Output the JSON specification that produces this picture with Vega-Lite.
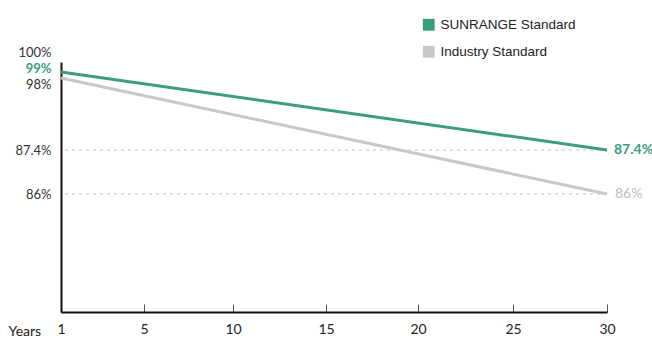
{
  "$schema": "https://vega.github.io/schema/vega-lite/v6.json",
  "width": 546,
  "height": 250,
  "autosize": "none",
  "padding": {"left": 61, "top": 62, "right": 45, "bottom": 26},
  "background": "white",
  "config": {"view": {"stroke": null}, "font": "Lato"},
  "datasets": {
    "series": [
      {"year": 1, "value": 0.99, "series": "SUNRANGE  Standard"},
      {"year": 30, "value": 0.874, "series": "SUNRANGE  Standard"},
      {"year": 1, "value": 0.98, "series": "Industry Standard"},
      {"year": 30, "value": 0.86, "series": "Industry Standard"}
    ],
    "guides": [{"value": 0.874}, {"value": 0.86}]
  },
  "layer": [
    {
      "data": {"name": "guides"},
      "mark": {"type": "rule", "color": "#c4c4c4", "strokeDash": [3, 4], "strokeWidth": 1.2},
      "encoding": {
        "y": {"field": "value", "type": "quantitative", "scale": {"domain": [0.8, 0.86, 0.874, 0.98, 0.99, 1.0], "range": [250, 132, 88, 16, 10, 0], "zero": false, "nice": false}}
      }
    },
    {
      "data": {"name": "series"},
      "mark": {"type": "line", "strokeWidth": 3},
      "encoding": {
        "x": {
          "field": "year", "type": "quantitative",
          "scale": {"domain": [1, 5, 10, 15, 20, 25, 30], "range": [0, 83, 172, 265, 357, 452, 546], "zero": false, "nice": false},
          "axis": {
            "values": [1, 5, 10, 15, 20, 25, 30],
            "title": "Years", "titleX": -53, "titleY": 19, "titleAlign": "left", "titleBaseline": "middle",
            "titleFontWeight": "normal", "titleFontSize": 14, "titleColor": "#222", "titleFont": "Lato",
            "labelAngle": 0, "labelFontSize": 14, "labelColor": "#222", "labelPadding": 18, "labelFlush": false,
            "domainColor": "#111", "domainWidth": 2, "tickColor": "#555", "tickWidth": 1, "tickSize": -8,
            "grid": false, "labelOverlap": false
          }
        },
        "y": {
          "field": "value", "type": "quantitative",
          "scale": {"domain": [0.8, 0.86, 0.874, 0.98, 0.99, 1.0], "range": [250, 132, 88, 16, 10, 0], "zero": false, "nice": false},
          "axis": {
            "title": null, "values": [0.86, 0.874, 0.98, 0.99, 1.0], "format": ".1~%",
            "ticks": false, "grid": false, "labelPadding": 10, "labelFontSize": 13,
            "labelColor": {"condition": {"test": "datum.value == 0.99", "value": "#3a9e7b"}, "value": "#333"},
            "labelFontWeight": {"condition": {"test": "datum.value == 0.99", "value": "bold"}, "value": "normal"},
            "labelOffset": {"condition": [{"test": "datum.value == 1", "value": -10}, {"test": "datum.value == 0.99", "value": -4}, {"test": "datum.value == 0.98", "value": 6}], "value": 0},
            "domainColor": "#111", "domainWidth": 2, "labelOverlap": false
          }
        },
        "color": {
          "field": "series", "type": "nominal",
          "scale": {"domain": ["SUNRANGE  Standard", "Industry Standard"], "range": ["#3a9e7b", "#c8c8c8"]},
          "legend": {
            "title": null, "orient": "none", "legendX": 361, "legendY": -44, "padding": 0,
            "symbolType": "square", "symbolSize": 140, "symbolStrokeWidth": 0, "symbolOpacity": 1,
            "labelFontSize": 13.5, "labelColor": "#222", "labelFont": "Liberation Sans", "rowPadding": 12, "labelOffset": 5,
            "encode": {
              "symbols": {"update": {"fill": {"scale": "color", "field": "value"}, "fillOpacity": {"value": 1}}}
            }
          }
        }
      }
    },
    {
      "data": {"name": "series"},
      "transform": [{"filter": "datum.year == 30 && datum.value > 0.87"}],
      "mark": {"type": "text", "align": "left", "dx": 7, "fontSize": 14, "fontWeight": "bold", "color": "#3a9e7b"},
      "encoding": {
        "x": {"field": "year", "type": "quantitative"},
        "y": {"field": "value", "type": "quantitative"},
        "text": {"field": "value", "type": "quantitative", "format": ".1~%"}
      }
    },
    {
      "data": {"name": "series"},
      "transform": [{"filter": "datum.year == 30 && datum.value < 0.87"}],
      "mark": {"type": "text", "align": "left", "dx": 8, "fontSize": 14, "color": "#bdbdbd"},
      "encoding": {
        "x": {"field": "year", "type": "quantitative"},
        "y": {"field": "value", "type": "quantitative"},
        "text": {"field": "value", "type": "quantitative", "format": ".1~%"}
      }
    }
  ]
}
